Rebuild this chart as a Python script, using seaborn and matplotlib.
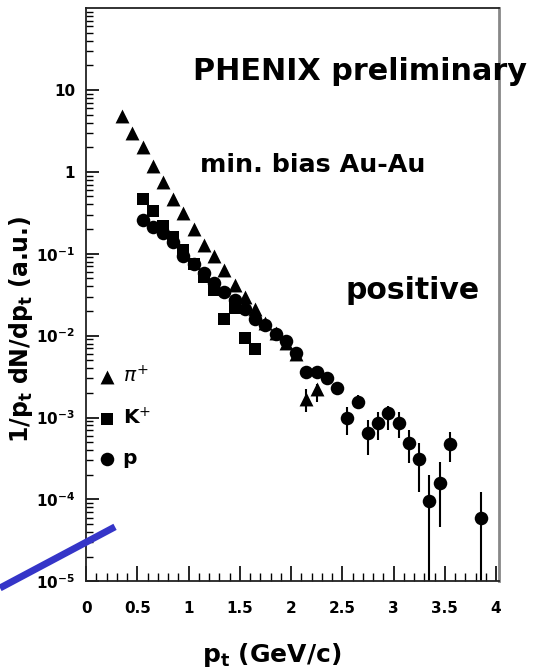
import numpy as np
import pandas as pd
import seaborn as sns
import matplotlib.pyplot as plt
from matplotlib.lines import Line2D
from matplotlib.ticker import MultipleLocator, LogLocator, NullFormatter

# pi+ spectrum (triangles)
pi_pt = [0.35, 0.45, 0.55, 0.65, 0.75, 0.85, 0.95, 1.05, 1.15, 1.25,
         1.35, 1.45, 1.55, 1.65, 1.75, 1.85, 1.95, 2.05, 2.15, 2.25]
pi_y = [4.8, 3.0, 2.0, 1.17, 0.76, 0.46, 0.31, 0.198, 0.129, 0.093,
        0.064, 0.042, 0.030, 0.021, 0.0144, 0.0108, 0.0082, 0.0059, 0.0017, 0.0022]

# K+ spectrum (squares)
k_pt = [0.55, 0.65, 0.75, 0.85, 0.95, 1.05, 1.15, 1.25, 1.35, 1.45, 1.55, 1.65]
k_y = [0.46, 0.33, 0.22, 0.16, 0.11, 0.075, 0.052, 0.036, 0.016, 0.022, 0.0094, 0.0068]

# proton spectrum (circles)
p_pt = [0.55, 0.65, 0.75, 0.85, 0.95, 1.05, 1.15, 1.25, 1.35, 1.45,
        1.55, 1.65, 1.75, 1.85, 1.95, 2.05, 2.15, 2.25, 2.35, 2.45,
        2.55, 2.65, 2.75, 2.85, 2.95, 3.05, 3.15, 3.25, 3.35, 3.45,
        3.55, 3.85]
p_y = [0.26, 0.21, 0.18, 0.14, 0.093, 0.075, 0.058, 0.044, 0.034, 0.027,
       0.021, 0.016, 0.0135, 0.0105, 0.0085, 0.0062, 0.0036, 0.0036, 0.0030, 0.0023,
       0.0010, 0.00155, 0.00065, 0.00086, 0.00114, 0.00086, 0.00049, 0.00031, 0.000095, 0.00016,
       0.00048, 0.00006]

# visible error bars (lower / upper ends)
p_err_pt = [2.55, 2.65, 2.75, 2.85, 2.95, 3.05, 3.15, 3.25, 3.35, 3.45, 3.55, 3.85]
p_err_lo = [0.00061, 0.0013, 0.00035, 0.00053, 0.0007, 0.00056, 0.00028, 0.000123,
            1e-6, 0.0000457, 0.00029, 1e-6]
p_err_hi = [0.00134, 0.0019, 0.00093, 0.00117, 0.0014, 0.00117, 0.0007, 0.00049,
            0.0002, 0.00029, 0.00067, 0.000123]
pi_err_pt = [2.15, 2.25]
pi_err_lo = [0.00117, 0.00155]
pi_err_hi = [0.0022, 0.0026]

x_ticks = [0, 0.5, 1, 1.5, 2, 2.5, 3, 3.5, 4]
x_labels = ["0", "0.5", "1", "1.5", "2", "2.5", "3", "3.5", "4"]
y_ticks = [1e-5, 1e-4, 1e-3, 1e-2, 1e-1, 1, 10]
y_labels = [r"$\mathbf{10^{-5}}$", r"$\mathbf{10^{-4}}$", r"$\mathbf{10^{-3}}$",
            r"$\mathbf{10^{-2}}$", r"$\mathbf{10^{-1}}$", "1", "10"]

sns.set_style("ticks")
plt.rcParams['font.family'] = ['DejaVu Sans']
plt.rcParams['text.color'] = 'black'
plt.rcParams['axes.labelcolor'] = 'black'
plt.rcParams['xtick.color'] = 'black'
plt.rcParams['ytick.color'] = 'black'

fig = plt.figure(figsize=(5.35, 6.72), dpi=100)
ax = fig.add_axes([0.161, 0.135, 0.772, 0.853])

# error bars first so the markers sit on top
ax.vlines(p_err_pt, p_err_lo, p_err_hi, color="black", lw=1.5)
ax.vlines(pi_err_pt, pi_err_lo, pi_err_hi, color="black", lw=1.5)

pi_df = pd.DataFrame({"pt": pi_pt, "y": pi_y})
k_df = pd.DataFrame({"pt": k_pt, "y": k_y})
p_df = pd.DataFrame({"pt": p_pt, "y": p_y})

sns.scatterplot(data=pi_df, x="pt", y="y", marker="^", s=100, color="black",
                linewidth=0, label=r"$\pi^{+}$", ax=ax)
sns.scatterplot(data=k_df, x="pt", y="y", marker="s", s=80, color="black",
                linewidth=0, label=r"K$^{+}$", ax=ax)
sns.scatterplot(data=p_df, x="pt", y="y", marker="o", s=95, color="black",
                linewidth=0, label="p", ax=ax)

ax.set_yscale("log")
ax.set_xlim(0, 4.03)
ax.set_ylim(1e-5, 1e2)

ax.set_xticks(x_ticks, x_labels)
ax.xaxis.set_minor_locator(MultipleLocator(0.1))
ax.set_yticks(y_ticks, y_labels)
ax.yaxis.set_minor_locator(LogLocator(base=10, subs=np.arange(2, 10)))
ax.yaxis.set_minor_formatter(NullFormatter())

ax.tick_params(which="both", direction="in", top=False, right=False)
ax.tick_params(axis="x", which="major", length=11, width=1.2, pad=14, labelsize=11)
ax.tick_params(axis="x", which="minor", length=6, width=1.0)
ax.tick_params(axis="y", which="major", length=9, width=1.2, pad=8, labelsize=11)
ax.tick_params(axis="y", which="minor", length=5, width=1.0)
for lab in ax.get_xticklabels() + ax.get_yticklabels():
    lab.set_fontweight("bold")

for side in ["left", "bottom", "top"]:
    ax.spines[side].set_color("#222222")
    ax.spines[side].set_linewidth(1.3)
ax.spines["right"].set_color("#888888")
ax.spines["right"].set_linewidth(2)

ax.set_xlabel(r"p$_\mathbf{t}$ (GeV/c)", fontsize=18, fontweight="bold")
ax.xaxis.set_label_coords(0.45, -0.105)
ax.set_ylabel(r"1/p$_\mathbf{t}$ dN/dp$_\mathbf{t}$ (a.u.)", fontsize=17, fontweight="bold")
ax.yaxis.set_label_coords(-0.125, 0.44)

# annotations
ax.text(0.259, 0.89, "PHENIX preliminary", transform=ax.transAxes, fontsize=21.8,
        fontweight="bold", va="center", ha="left", clip_on=False)
ax.text(0.276, 0.726, "min. bias Au-Au", transform=ax.transAxes, fontsize=18.3,
        fontweight="bold", va="center", ha="left")
ax.text(0.627, 0.508, "positive", transform=ax.transAxes, fontsize=21.5,
        fontweight="bold", va="center", ha="left")

sns.move_legend(ax, "upper left", bbox_to_anchor=(0.025, 0.378), frameon=False,
                handlelength=1.0, handletextpad=0.3, borderpad=0, borderaxespad=0,
                labelspacing=1.05, prop={"size": 14.5, "weight": "bold"})

# blue pointer line in the lower left corner
fig.add_artist(Line2D([0, 0.215], [0.125, 0.216], transform=fig.transFigure,
                      color="#3535c8", lw=5, solid_capstyle="butt"))

fig.savefig("out.png", dpi=100)
